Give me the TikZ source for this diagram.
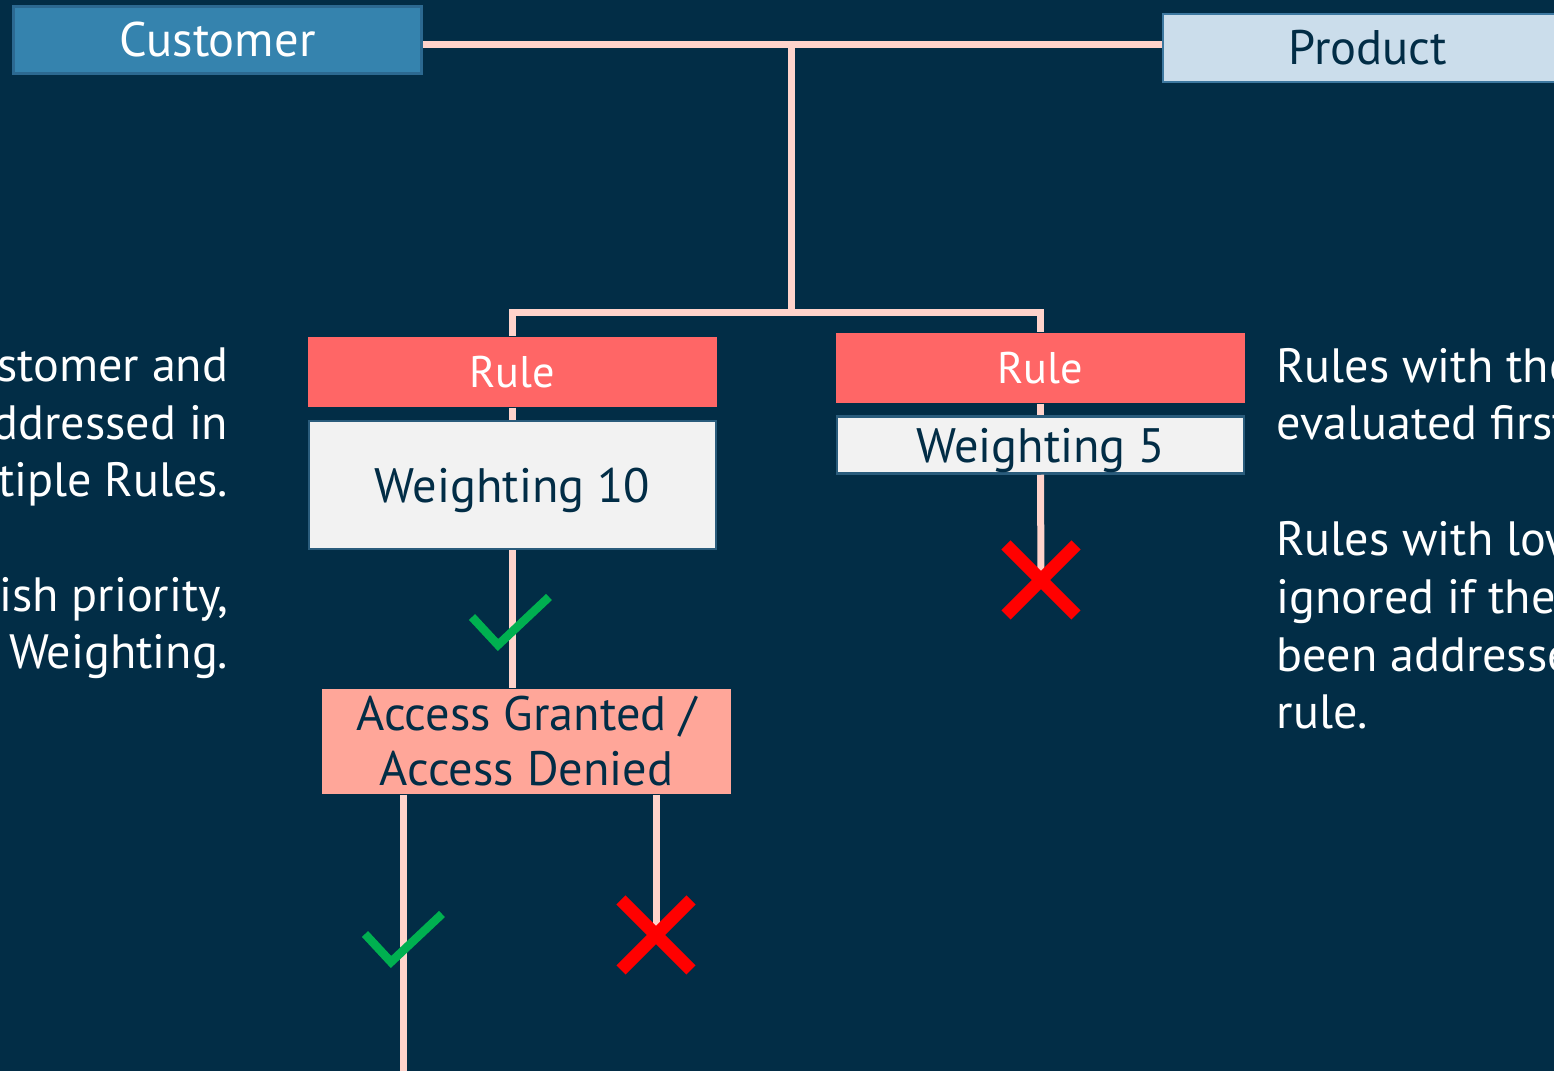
\documentclass[tikz,border=0pt]{standalone}
\usepackage{fontspec}
\setmainfont{PT Sans}
\usetikzlibrary{positioning}
\definecolor{navybg}{HTML}{022D46}
\definecolor{custblue}{HTML}{3583AE}
\definecolor{custedge}{HTML}{2C6991}
\definecolor{prodfill}{HTML}{CBDDEB}
\definecolor{prodedge}{HTML}{3D78A0}
\definecolor{linkpink}{HTML}{FFD3CB}
\definecolor{rulered}{HTML}{FF6666}
\definecolor{weightgray}{HTML}{F2F2F2}
\definecolor{weightedge}{HTML}{2A5C7C}
\definecolor{resultpink}{HTML}{FFA699}
\definecolor{okgreen}{HTML}{00B050}
\definecolor{nored}{HTML}{FF0000}
\newcommand{\nocross}[1]{\draw[nomark] (#1) +(-35,-35) -- +(35,35) (#1) +(-35,35) -- +(35,-35);}
\newcommand{\okcheck}[1]{\draw[okmark] (#1) ++(-26,-28) -- (#1) -- ++(51,-48);}

\begin{document}
\begin{tikzpicture}[
  x=0.01cm, y=-0.01cm,
  every node/.style={inner sep=0pt},
  link/.style={draw=linkpink, line width=0.07cm},
  custbox/.style={draw=custedge, line width=0.03cm, fill=custblue, text=white,
    minimum width=4.08cm, minimum height=0.67cm, font=\fontsize{13.8pt}{16pt}\selectfont},
  prodbox/.style={draw=prodedge, line width=0.025cm, fill=prodfill, text=navybg,
    minimum width=4.1cm, minimum height=0.68cm, font=\fontsize{13.8pt}{16pt}\selectfont},
  rulebox/.style={fill=rulered, text=white, minimum width=4.09cm, minimum height=0.70cm,
    font=\fontsize{12.6pt}{15pt}\selectfont},
  weightbox/.style={draw=weightedge, line width=0.025cm, fill=weightgray, text=navybg,
    minimum width=4.07cm, text depth=0pt, font=\fontsize{13.75pt}{16pt}\selectfont},
  resultbox/.style={fill=resultpink, text=navybg, minimum width=4.09cm, minimum height=1.05cm,
    align=center, font=\fontsize{13.75pt}{15.65pt}\selectfont},
  sidetext/.style={text=white, font=\fontsize{13.7pt}{16.4pt}\selectfont},
  okmark/.style={draw=okgreen, line width=0.085cm},
  nomark/.style={draw=nored, line width=0.13cm}
]
\fill[navybg] (0,0) rectangle (1554,1071);
\useasboundingbox (0,0) rectangle (1554,1071);
\clip (0,0) rectangle (1554,1071);

% top row
\node[custbox] (customer) at (217.5,40) {Customer};
\node[prodbox] (product) at (1368,48) {Product};
\coordinate (top) at (791,45);
\coordinate (split) at (791,313);

% rules
\node[rulebox] (rule1) at (512.5,372) {Rule};
\node[weightbox, minimum height=1.28cm] (weight1) at (512.5,485) {Weighting 10};
\node[rulebox] (rule2) at (1040.5,368) {Rule};
\node[weightbox, minimum height=0.57cm] (weight2) at (1040.5,445) {Weighting 5};
\node[resultbox] (result) at (526.5,741.5) {Access Granted /\\Access Denied};

\coordinate (ok1) at (498,645);
\coordinate (no1) at (1041,580);
\coordinate (ok2) at (391,962);
\coordinate (no2) at (656,935);
\coordinate (okend) at (403,1071);

% connectors
\draw[link] (customer.east |- top) -- (product.west |- top);
\draw[link] (top) -- (split);
\draw[link] (rule1.north) |- (split) -| (rule2.north);
\draw[link] (rule1.south) -- (weight1.north);
\draw[link] (rule2.south) -- (weight2.north);
\draw[link] (weight1.south) -- (weight1.south |- result.north);
\draw[link] (weight2.south) -- (no1);
\draw[link] (result.south -| okend) -- (okend);
\draw[link] (result.south -| no2) -- (no2);

% outcomes
\okcheck{ok1}
\okcheck{ok2}
\nocross{no1}
\nocross{no2}

% side notes (base = last line)
\node[sidetext, anchor=base east, align=right] (noteleft1) at (229,497)
  {stomer and\\ddressed in\\tiple Rules.};
\node[sidetext, anchor=base east, align=right] (noteleft2) at (229,669)
  {ish priority,\\Weighting.};
\node[sidetext, anchor=base west, align=left] (noteright1) at (1276,440)
  {Rules with the\\evaluated first};
\node[sidetext, anchor=base west, align=left] (noteright2) at (1276,729)
  {Rules with lower\\ignored if they\\been addressed\\rule.};
\end{tikzpicture}
\end{document}
